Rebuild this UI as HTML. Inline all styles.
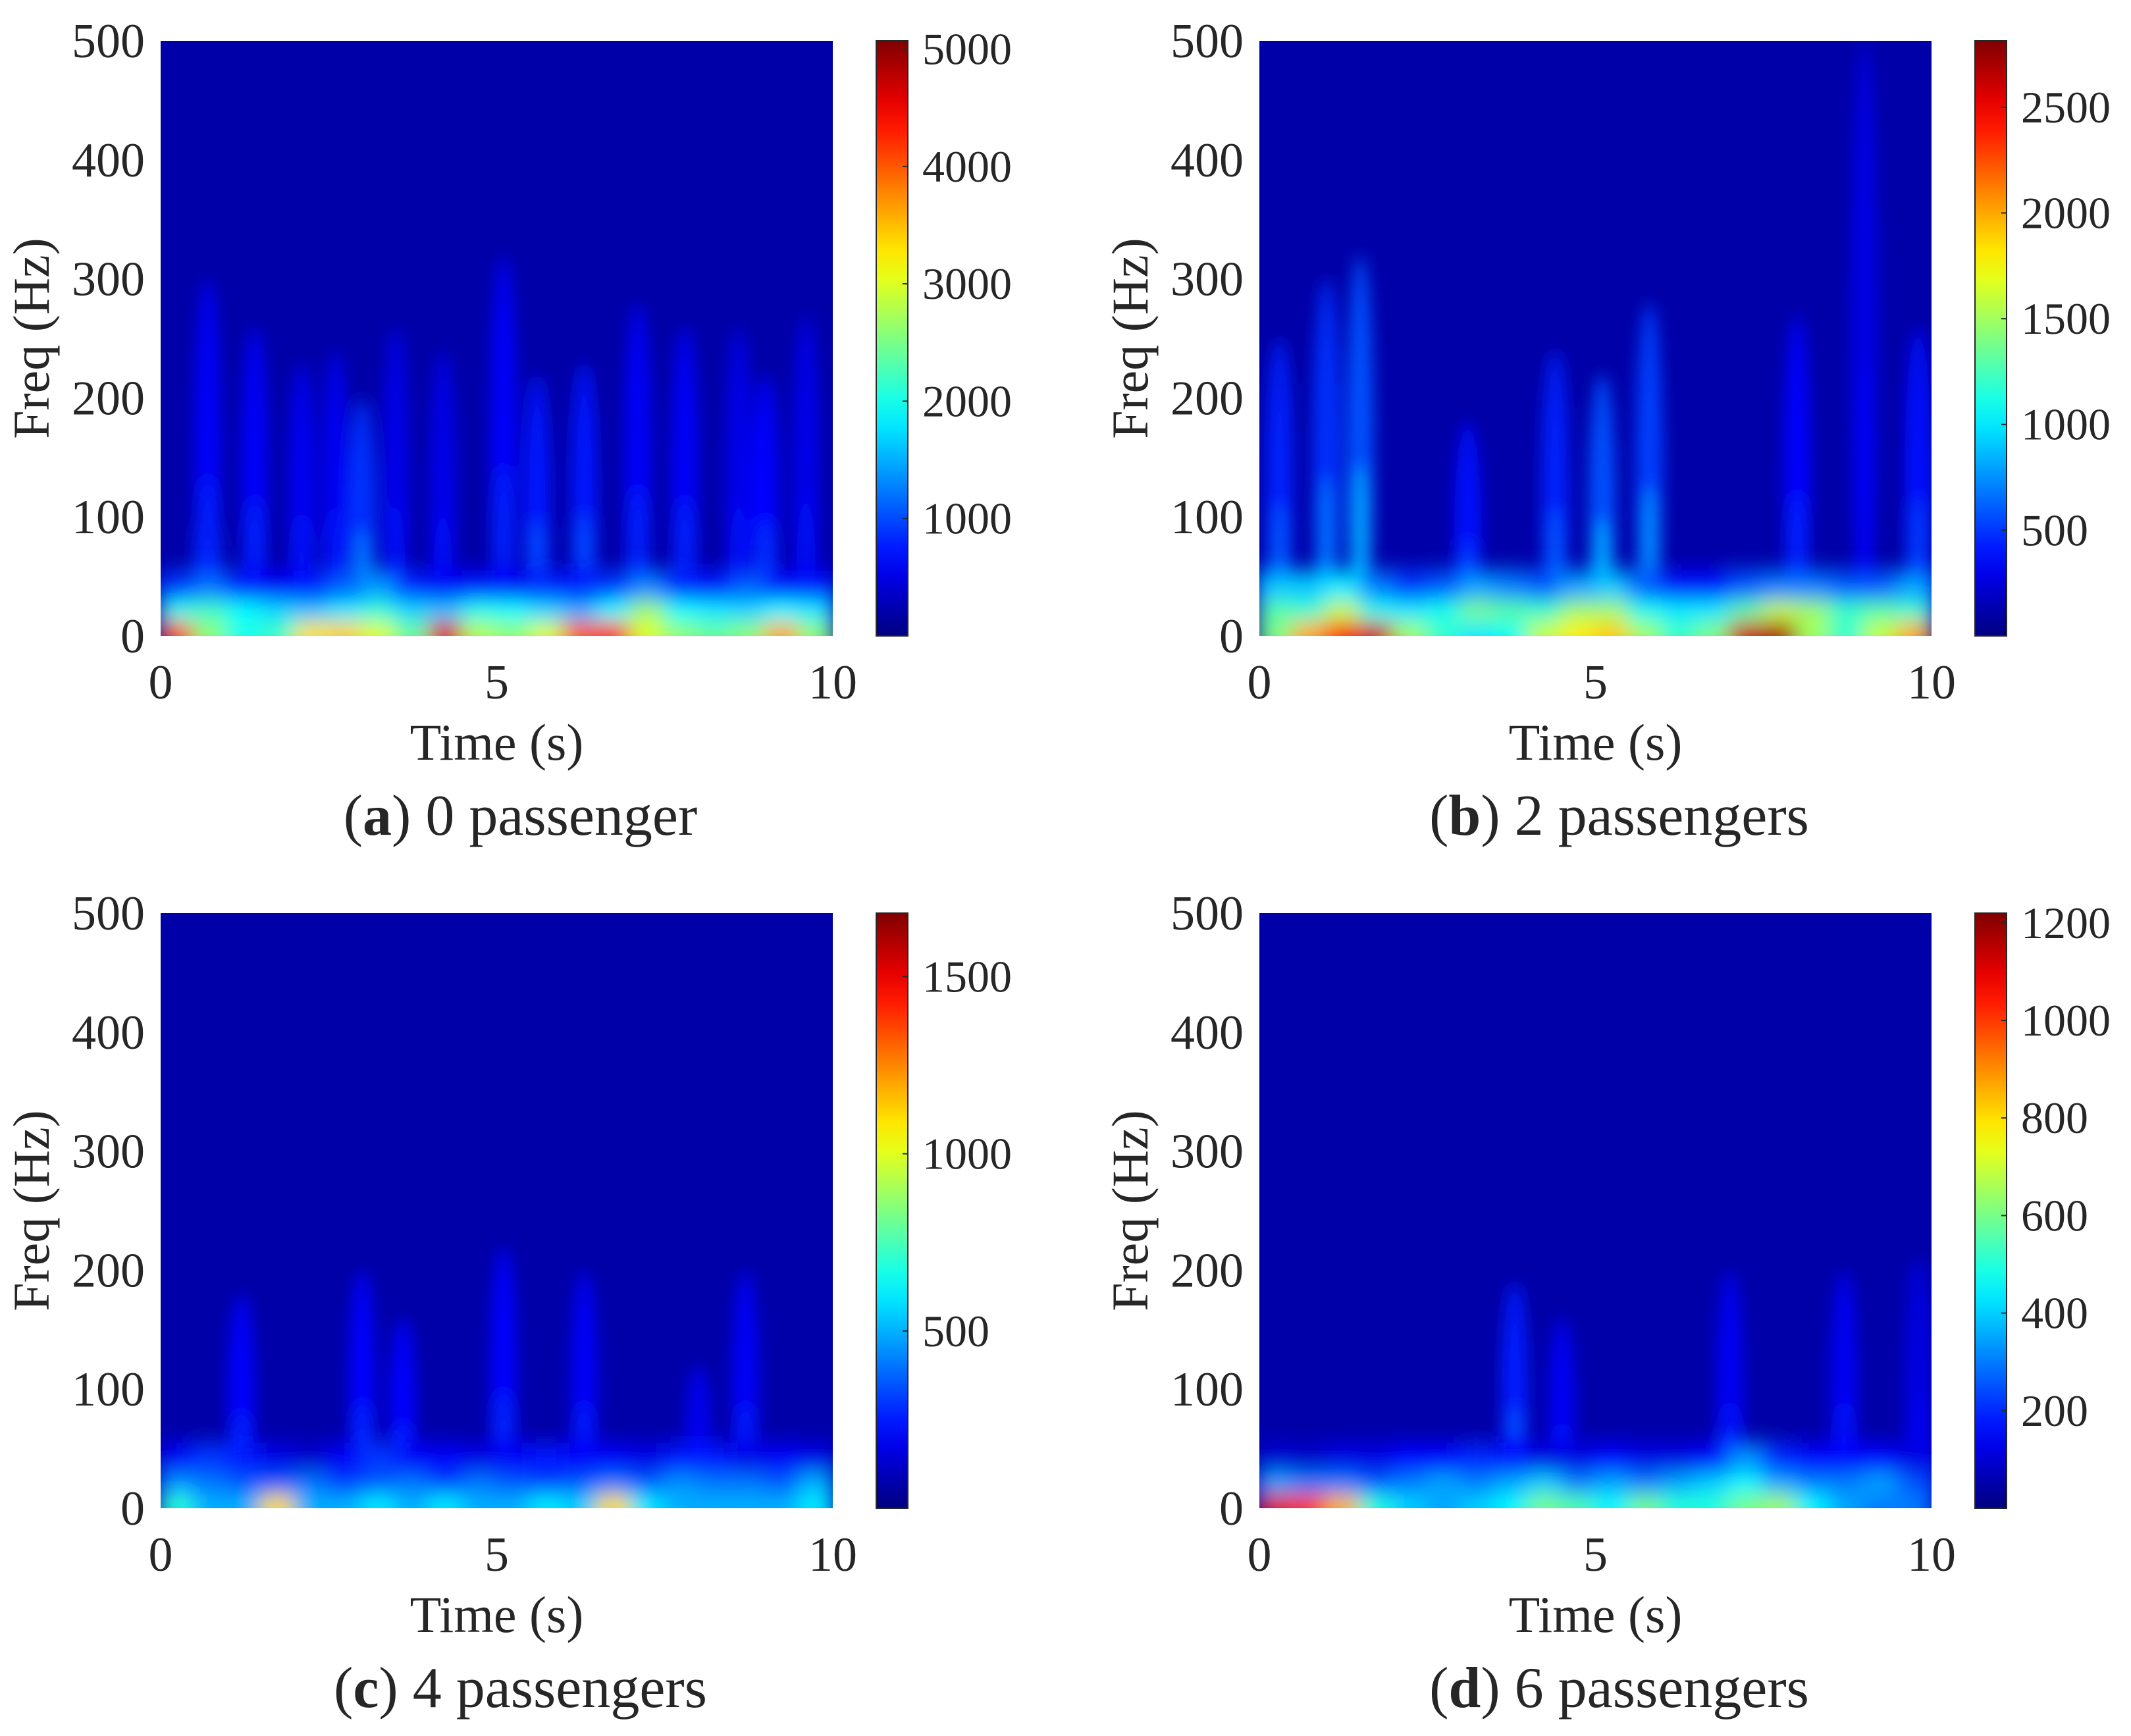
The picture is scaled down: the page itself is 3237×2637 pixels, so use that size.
<!DOCTYPE html>
<html><head><meta charset="utf-8"><style>
html,body{margin:0;padding:0;background:#fff;}
svg{display:block;}
text{font-family:"Liberation Serif",serif;fill:#262626;}
</style></head><body>
<svg id="fig" width="3237" height="2637" viewBox="0 0 3237 2637" xmlns="http://www.w3.org/2000/svg">
<defs>
<filter id="blur" filterUnits="userSpaceOnUse" x="0" y="0" width="3237" height="2637"><feGaussianBlur stdDeviation="16"/></filter>
<filter id="blur2" filterUnits="userSpaceOnUse" x="0" y="0" width="3237" height="2637"><feGaussianBlur stdDeviation="12"/></filter>
</defs>
</svg>
<script>
// ---- data (time points at 0.25,0.75,... s; bands 0-10Hz, 10-30Hz, 30-60Hz) ----
const timePts = [0.25,0.75,1.25,1.75,2.25,2.75,3.25,3.75,4.25,4.75,5.25,5.75,6.25,6.75,7.25,7.75,8.25,8.75,9.25,9.75];
const bandEdges = [0,12,30,55];
const xTicks = [0,5,10];
const yTicks = [0,100,200,300,400,500];
const captionsBold = ["a","b","c","d"];
const captionsText = [" 0 passenger"," 2 passengers"," 4 passengers"," 6 passengers"];
const cbarMax = [5070,2814,1679,1220];
const cbarTicks = [[1000,2000,3000,4000,5000],[500,1000,1500,2000,2500],[500,1000,1500],[200,400,600,800,1000,1200]];

const aBand0 = [4200,2600,2000,2200,3300,3400,3000,2400,4600,2800,2600,3000,4000,4300,3000,2600,2400,2600,3600,2600];
const aBand1 = [2000,2200,1900,1700,1600,1800,2100,1700,1600,2000,1900,1700,1500,1900,2700,1900,1800,1700,1900,1800];
const aBand2 = [900,1200,700,600,700,1100,1400,800,600,700,600,800,700,900,1300,800,700,1100,700,700];
const aStreakT = [0.7,0.7,1.4,2.1,2.6,3.0,3.5,4.2,5.1,5.6,6.3,7.1,7.8,8.6,9.0,9.6];
const aStreakF = [150,300,260,230,240,200,260,240,320,220,230,280,260,260,220,270];
const aStreakV = [1400,700,700,600,600,1300,500,500,700,1000,1000,700,700,500,800,500];

const bBand0 = [1400,2000,2400,2600,1500,1200,1000,1100,1600,1800,1900,1500,1200,1400,2600,2700,1500,1200,1600,2000];
const bBand1 = [1300,1200,1600,1100,1000,1100,1400,1300,1200,1500,1500,1100,1000,1000,1300,1600,1500,1200,1300,1200];
const bBand2 = [900,900,1000,700,500,600,800,700,600,800,900,600,400,400,600,700,700,600,600,800];
const bStreakT = [0.3,1.0,1.5,3.1,4.4,5.1,5.8,8.0,9.0,9.8];
const bStreakF = [250,300,320,180,240,220,280,270,500,260];
const bStreakV = [600,700,900,500,600,900,800,400,250,500];

const cBand0 = [700,500,500,1100,500,500,600,500,600,500,500,600,550,1100,600,500,500,500,500,600];
const cBand1 = [450,400,350,350,400,300,350,400,300,400,350,300,350,400,350,450,400,400,350,500];
const cBand2 = [200,300,250,170,130,200,300,200,200,170,200,250,200,200,170,250,250,170,200,170];
const cStreakT = [1.2,3.0,3.6,5.1,6.3,8.7,8.0];
const cStreakF = [180,200,160,220,200,200,120];
const cStreakV = [250,250,250,250,220,220,180];

const dBand0 = [1100,1000,850,500,400,350,400,450,600,550,450,600,500,500,600,650,450,350,300,300];
const dBand1 = [350,300,300,250,300,350,300,350,400,300,350,300,350,400,450,350,300,300,350,250];
const dBand2 = [100,90,120,120,160,160,200,160,120,120,160,120,120,160,330,200,160,160,160,120];
const dStreakT = [3.8,4.5,7.0,7.0,8.7,9.8];
const dStreakF = [190,160,130,200,200,210];
const dStreakV = [250,150,300,150,150,100];

const panelBands = [[aBand0,aBand1,aBand2],[bBand0,bBand1,bBand2],[cBand0,cBand1,cBand2],[dBand0,dBand1,dBand2]];
const panelStreakT = [aStreakT,bStreakT,cStreakT,dStreakT];
const panelStreakF = [aStreakF,bStreakF,cStreakF,dStreakF];
const panelStreakV = [aStreakV,bStreakV,cStreakV,dStreakV];

// ---- layout ----
const NS = "http://www.w3.org/2000/svg";
const svg = document.getElementById('fig');
const colX = [244,1913], rowY = [62,1387];
const PW = 1021, PH = 904, CBW = 48, CBGAP = 66;
const letters = ["a","b","c","d"];

function jet(v){
  v = Math.max(0,Math.min(1,v));
  const c = t => Math.round(255*Math.max(0,Math.min(1,1.5-Math.abs(4*v-t))));
  return `rgb(${c(3)},${c(2)},${c(1)})`;
}
function mk(tag, attrs, parent){
  const e = document.createElementNS(NS, tag);
  for (const k in attrs) e.setAttribute(k, attrs[k]);
  (parent||svg).appendChild(e);
  return e;
}

for (let p=0;p<4;p++){
  const x0 = colX[p%2], y0 = rowY[Math.floor(p/2)];
  const xs = t => x0 + t/10*PW;
  const ys = f => y0 + PH - f/500*PH;
  const vmax = cbarMax[p];
  const g = mk('g',{});
  
  

  const clip = mk('clipPath',{id:'clip'+p});
  mk('rect',{x:x0,y:y0,width:PW,height:PH},clip);

  const bg = mk('rect',{x:x0,y:y0,width:PW,height:PH,fill:jet(0.04)},g);
  
  

  const hm = mk('g',{'clip-path':`url(#clip${p})`},g);
  
  
  // streaks
  const sg = mk('g',{filter:'url(#blur2)'},hm);
  const st = panelStreakT[p], sf = panelStreakF[p], sv = panelStreakV[p];
  for (let i=0;i<st.length;i++){
    const e = mk('ellipse',{cx:xs(st[i]),cy:(ys(sf[i])+ys(0))/2,rx:PW*0.02,ry:(ys(0)-ys(sf[i]))/2,fill:jet(0.06+sv[i]/vmax*0.45)},sg);
    
    
    const e2 = mk('ellipse',{cx:xs(st[i]),cy:(ys(sf[i]*0.45)+ys(0))/2,rx:PW*0.014,ry:(ys(0)-ys(sf[i]*0.45))/2,fill:jet(0.06+sv[i]/vmax*0.8),opacity:0.7},sg);
    
    
  }
  // bands (draw from high to low)
  const bg2 = mk('g',{filter:'url(#blur)'},hm);
  const bands = panelBands[p];
  for (let b=bands.length-1;b>=0;b--){
    for (let i=0;i<timePts.length;i++){
      const r = mk('rect',{x:xs(timePts[i]-0.27),y:ys(bandEdges[b+1]),width:xs(0.54)-x0,height:ys(bandEdges[b])-ys(bandEdges[b+1])+(b===0?30:6),fill:jet(bands[b][i]/vmax)},bg2);
      
      
    }
  }

  // y ticks
  for (const v of yTicks){
    const t = mk('text',{x:x0-24,y:ys(v)+25,'font-size':74,'text-anchor':'end'},g);
    t.textContent = v;
    
    
  }
  for (const v of xTicks){
    const t = mk('text',{x:xs(v),y:y0+PH+95,'font-size':74,'text-anchor':'middle'},g);
    t.textContent = v;
    
    
  }
  const yl = mk('text',{x:0,y:0,'font-size':78,'text-anchor':'middle',transform:`translate(${x0-170},${y0+PH*0.5}) rotate(-90)`},g);
  yl.textContent = 'Freq (Hz)';
  
  
  const xl = mk('text',{x:x0+PW/2,y:y0+PH+188,'font-size':78,'text-anchor':'middle'},g);
  xl.textContent = 'Time (s)';
  
  
  const cap = mk('text',{x:x0+PW/2+36,y:y0+PH+302,'font-size':88,'text-anchor':'middle'},g);
  
  
  const t1 = mk('tspan',{},cap); t1.textContent='(';
  const t2 = mk('tspan',{'font-weight':'bold'},cap); t2.textContent=captionsBold[p];
  const t3 = mk('tspan',{},cap); t3.textContent=')'+captionsText[p];

  // colorbar
  const cx = x0+PW+CBGAP;
  const grad = mk('linearGradient',{id:'cg'+p,x1:0,y1:1,x2:0,y2:0});
  for (let s=0;s<=20;s++) mk('stop',{offset:s/20,'stop-color':jet(s/20)},grad);
  const cb = mk('rect',{x:cx,y:y0,width:CBW,height:PH,fill:`url(#cg${p})`,stroke:'#262626','stroke-width':2},g);
  
  
  for (const v of cbarTicks[p]){
    const yy = y0+PH - v/vmax*PH;
    mk('line',{x1:cx+CBW-8,x2:cx+CBW,y1:yy,y2:yy,stroke:'#262626','stroke-width':2},g);
    const t = mk('text',{x:cx+CBW+22,y:yy+23,'font-size':68},g);
    t.textContent = v;
    
    
  }
}
</script>
</body></html>
